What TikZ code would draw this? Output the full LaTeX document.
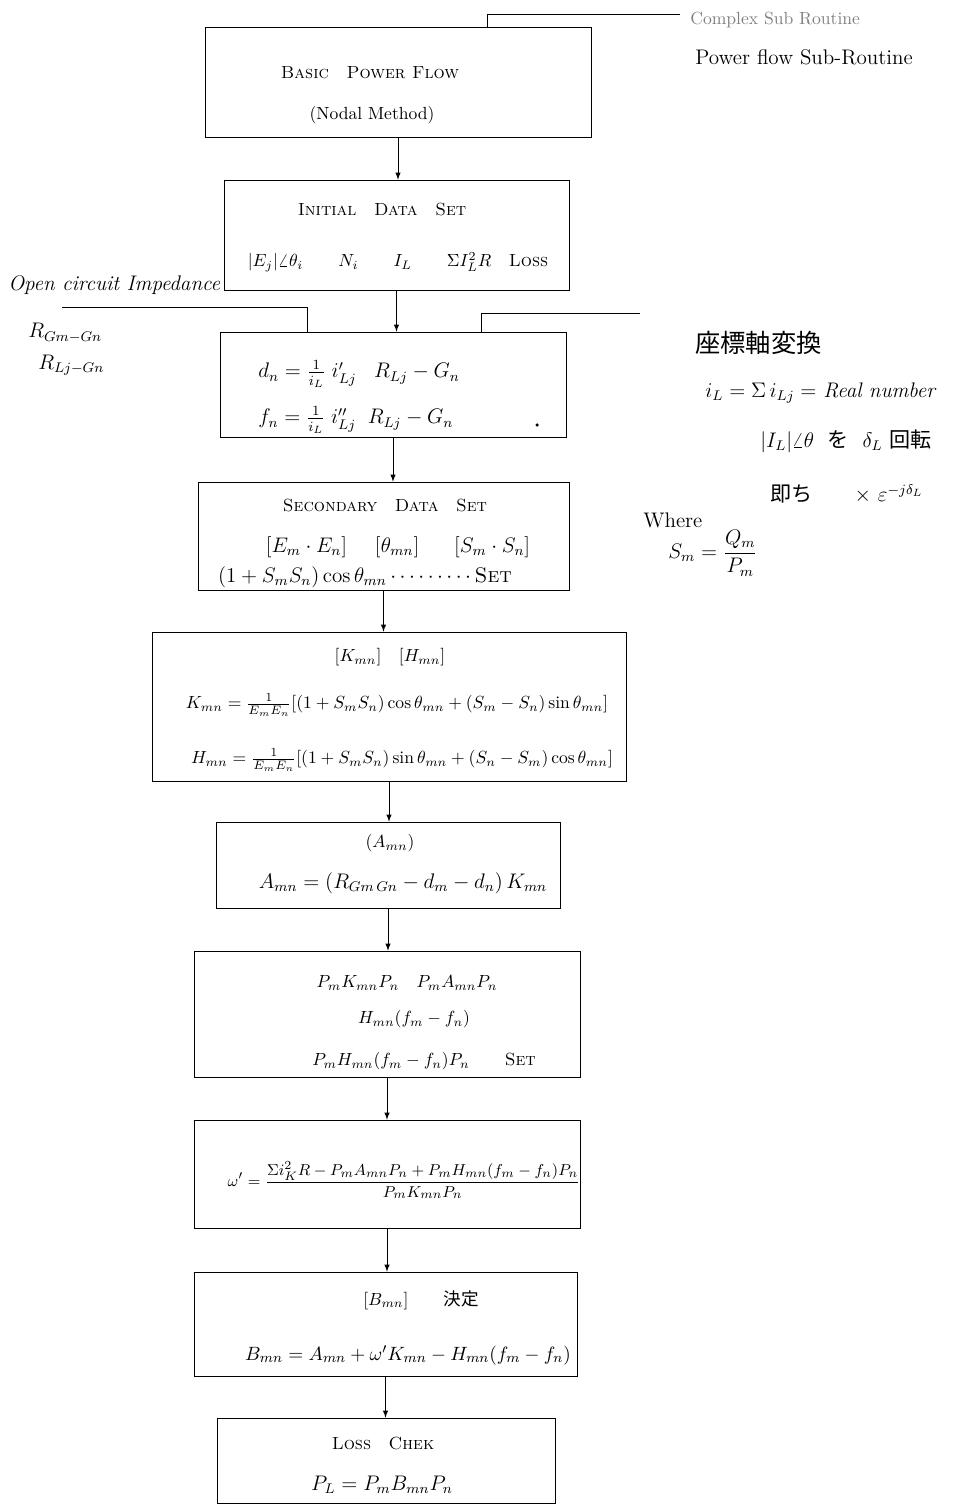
\documentclass[tikz,border=0pt]{standalone}
\usepackage{amsmath}
\usepackage{fontspec}
\newfontfamily\jp{Noto Sans CJK JP}
\usetikzlibrary{arrows}
\tikzset{
    every node/.append style={font=\normalsize},
    box/.style={draw, thin, inner sep=0pt},
    arrow/.style={thin, ->, >=latex},
    note/.style={anchor=west, inner sep=0pt},
}

\begin{document}
\begin{tikzpicture}[x=0.02cm,y=-0.02cm]
  \useasboundingbox (0,0) rectangle (972,1506);

  % boxes
  \node[box, minimum width=7.72cm, minimum height=2.2cm] (b1) at (398,82) {};
  \node[box, minimum width=6.9cm, minimum height=2.2cm] (b2) at (396.5,235) {};
  \node[box, minimum width=6.92cm, minimum height=2.1cm] (b3) at (393,384.5) {};
  \node[box, minimum width=7.42cm, minimum height=2.16cm] (b4) at (383.5,536) {};
  \node[box, minimum width=9.48cm, minimum height=2.98cm] (b5) at (389,706.5) {};
  \node[box, minimum width=6.88cm, minimum height=1.72cm] (b6) at (388,865) {};
  \node[box, minimum width=7.72cm, minimum height=2.52cm] (b7) at (387,1014) {};
  \node[box, minimum width=7.72cm, minimum height=2.16cm] (b8) at (387,1174) {};
  \node[box, minimum width=7.66cm, minimum height=2.08cm] (b9) at (385.5,1324) {};
  \node[box, minimum width=6.76cm, minimum height=1.7cm] (b10) at (386,1460.5) {};

  % box texts
  \node (t1a) at (370,73) {\textsc{Basic\quad Power Flow}};
  \node (t1b) at (372,115) {(Nodal Method)};
  \node (t2a) at (382,210) {\textsc{Initial\quad Data\quad Set}};
  \node (t2b) at (398,262) {$|E_j|\angle\theta_i$\qquad $N_i$\qquad $I_L$\qquad $\Sigma I_L^2R$\quad\textsc{Loss}};
  \node[note, font=\large] (t3a) at (258,374) {$d_n = \frac{1}{i_L}\; i'_{Lj}\;\;\; R_{Lj}-G_n$};
  \node[note, font=\large] (t3b) at (258,420) {$f_n = \frac{1}{i_L}\; i''_{Lj}\;\; R_{Lj}-G_n$};
  \fill (537,425) circle (1pt);
  \node (t4a) at (385,505) {\textsc{Secondary\quad Data\quad Set}};
  \node[font=\large] (t4b) at (398,547) {$[E_m\cdot E_n]$\quad\ $[\theta_{mn}]$\quad\ \ $[S_m\cdot S_n]$};
  \node[font=\large] (t4c) at (365,577) {$(1+S_mS_n)\cos\theta_{mn}\cdots\cdots\cdots$\textsc{Set}};
  \node (t5a) at (390,657) {$[K_{mn}]$\quad $[H_{mn}]$};
  \node (t5b) at (397,705) {$K_{mn} = \frac{1}{E_mE_n}[(1+S_mS_n)\cos\theta_{mn}+(S_m-S_n)\sin\theta_{mn}]$};
  \node (t5c) at (402,760) {$H_{mn} = \frac{1}{E_mE_n}[(1+S_mS_n)\sin\theta_{mn}+(S_n-S_m)\cos\theta_{mn}]$};
  \node (t6a) at (390,843) {$(A_{mn})$};
  \node[font=\large] (t6b) at (403,883) {$A_{mn} = (R_{Gm\,Gn} - d_m - d_n)\,K_{mn}$};
  \node (t7a) at (407,983) {$P_mK_{mn}P_n$\quad $P_mA_{mn}P_n$};
  \node (t7b) at (414,1019) {$H_{mn}(f_m-f_n)$};
  \node (t7c) at (424,1061) {$P_mH_{mn}(f_m-f_n)P_n$\qquad\textsc{Set}};
  \node[font=\fontsize{9.5}{11}\selectfont] (t8) at (404,1180) {$\omega' = \dfrac{\Sigma i_K^2R - P_mA_{mn}P_n + P_mH_{mn}(f_m-f_n)P_n}{P_mK_{mn}P_n}$};
  \node (t9a) at (421,1300) {$[B_{mn}]$\qquad {\jp 決定}};
  \node[font=\fontsize{11}{13}\selectfont] (t9b) at (408,1355) {$B_{mn} = A_{mn} + \omega'K_{mn} - H_{mn}(f_m-f_n)$};
  \node (t10a) at (383,1443) {\textsc{Loss\quad Chek}};
  \node[font=\large] (t10b) at (382,1485) {$P_L = P_mB_{mn}P_n$};

  % notes
  \node[note, gray] (n1) at (690,20) {Complex Sub Routine};
  \node[note, font=\large] (n2) at (695,57) {Power flow Sub-Routine};
  \node[note, font=\large] (n3) at (8,285) {\itshape Open circuit Impedance};
  \node[note, font=\large] (n4) at (28,333) {$R_{Gm-Gn}$};
  \node[note, font=\large] (n5) at (38,365) {$R_{Lj-Gn}$};
  \node[note] (n6) at (695,343) {\Large\jp 座標軸変換};
  \node[note, font=\large] (n7) at (705,393) {$i_L = \Sigma\, i_{Lj} =$ \textit{Real number}};
  \node[note, font=\large] (n8) at (760,441) {$|I_L|\angle\theta$\ \ {\jp を}\ \ $\delta_L$ {\jp 回転}};
  \node[note, font=\large] (n9) at (770,494) {{\jp 即ち}\qquad $\times\ \varepsilon^{-j\delta_L}$};
  \node[note, font=\large] (n10) at (643,520) {Where};
  \node[note, font=\large] (n11) at (668,553) {$S_m = \dfrac{Q_m}{P_m}$};

  % coordinates
  \coordinate (sub) at (680,14);
  \coordinate (subx) at (487,14);
  \coordinate (oc) at (62,307);
  \coordinate (ocx) at (307,307);
  \coordinate (ax) at (640,313);
  \coordinate (axx) at (481,313);

  % connectors
  \draw (sub) -| (b1.north -| subx);
  \draw (oc) -| (b3.north -| ocx);
  \draw (ax) -| (b3.north -| axx);
  \draw[arrow] (b1.south) -- (b1.south |- b2.north);
  \draw[arrow] (b2.south) -- (b2.south |- b3.north);
  \draw[arrow] (b3.south) -- (b3.south |- b4.north);
  \draw[arrow] (b4.south) -- (b4.south |- b5.north);
  \draw[arrow] (b5.south) -- (b5.south |- b6.north);
  \draw[arrow] (b6.south) -- (b6.south |- b7.north);
  \draw[arrow] (b7.south) -- (b7.south |- b8.north);
  \draw[arrow] (b8.south) -- (b8.south |- b9.north);
  \draw[arrow] (b9.south) -- (b9.south |- b10.north);
\end{tikzpicture}
\end{document}
